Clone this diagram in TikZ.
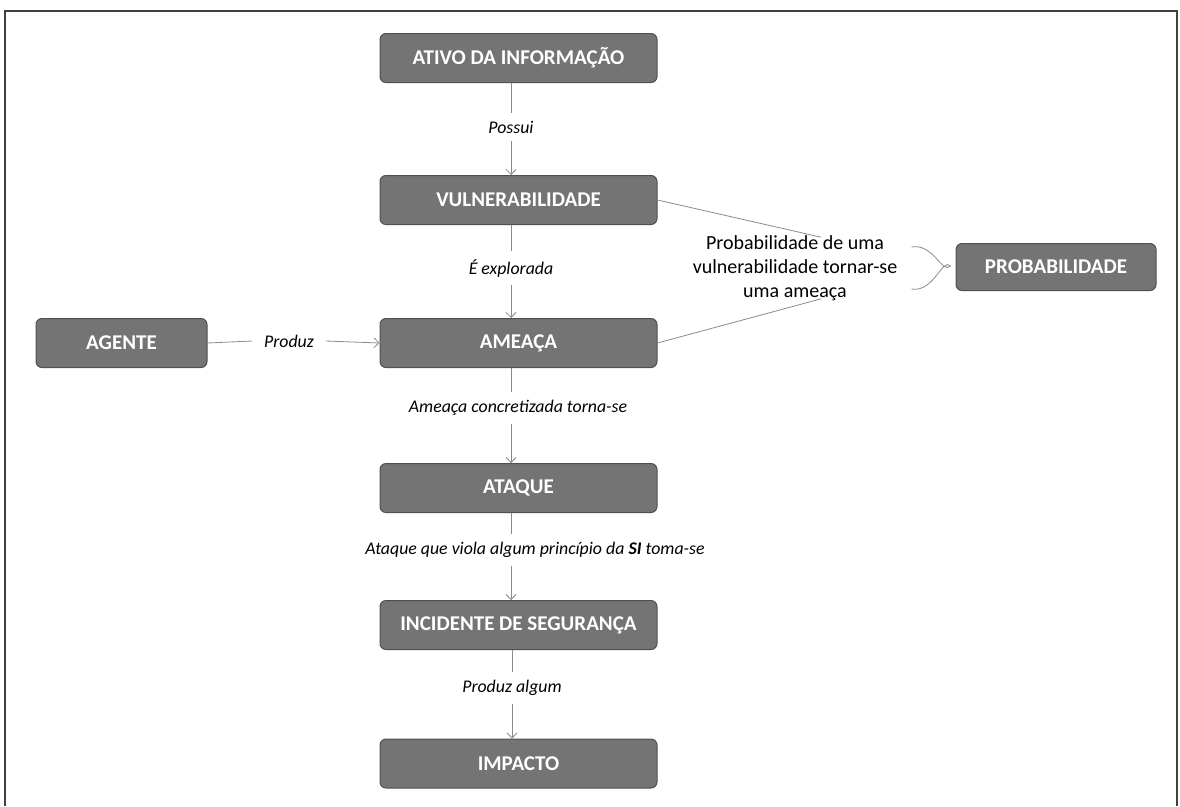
\documentclass[tikz,border=0pt]{standalone}
\usepackage{fontspec}
\setmainfont{Carlito}
\usetikzlibrary{arrows.meta}
\definecolor{boxfill}{HTML}{747474}
\definecolor{boxborder}{HTML}{505050}
\definecolor{linegray}{HTML}{8A8A8A}
\definecolor{framegray}{HTML}{404040}
\begin{document}
\begin{tikzpicture}[x=1pt,y=-1pt,
  box/.style={draw=boxborder, fill=boxfill, rounded corners=6pt, line width=1pt,
    text=white, font=\fontsize{21}{24}\selectfont\bfseries,
    minimum width=277pt, minimum height=49pt, inner sep=0pt},
  lab/.style={font=\fontsize{17.8}{20}\selectfont\itshape, inner sep=2pt, outer sep=6pt},
  conn/.style={draw=linegray, line width=0.8pt},
  arr/.style={conn, -{Straight Barb[length=5pt,width=10pt]}}]
\useasboundingbox (0,0) rectangle (1180,806);
\draw[framegray, line width=1.6pt] (5,806) -- (5,11) -- (1177,11) -- (1177,806);

\node[box] (ativo) at (518.5,58) {ATIVO DA INFORMAÇÃO};
\node[box] (vuln) at (518.5,200) {VULNERABILIDADE};
\node[box] (ameaca) at (518.5,343) {AMEAÇA};
\node[box] (ataque) at (518.5,488) {ATAQUE};
\node[box] (incid) at (518.5,625) {INCIDENTE DE SEGURANÇA};
\node[box] (impacto) at (518.5,763.5) {IMPACTO};
\node[box, minimum width=171pt] (agente) at (121.5,343) {AGENTE};
\node[box, minimum width=200pt, minimum height=47pt] (prob) at (1056,267) {PROBABILIDADE};

\node[lab] (l1) at (511,127) {Possui};
\node[lab] (l2) at (511,268) {É explorada};
\node[lab] (l3) at (518,408) {Ameaça concretizada torna-se};
\node[lab] (l4) at (535,550) {Ataque que viola algum princípio da \textbf{SI} toma-se};
\node[lab] (l5) at (512,688) {Produz algum};
\node[lab, outer sep=10pt] (l6) at (289,341) {Produz};
\node[font=\fontsize{20}{24}\selectfont, align=center, inner sep=0pt] (ptext) at (795,268)
  {Probabilidade de uma\\vulnerabilidade tornar-se\\uma ameaça};

\draw[conn] (ativo.south -| l1) -- (l1.north);
\draw[arr] (l1.south) -- (vuln.north -| l1);
\draw[conn] (vuln.south -| l2) -- (l2.north);
\draw[arr] (l2.south) -- (ameaca.north -| l2);
\draw[conn] (ameaca.south -| l1) -- (l3.north -| l1);
\draw[arr] (l3.south -| l1) -- (ataque.north -| l1);
\draw[conn] (ataque.south -| l1) -- (l4.north -| l1);
\draw[arr] (l4.south -| l1) -- (incid.north -| l1);
\draw[conn] (incid.south -| l5) -- (l5.north);
\draw[arr] (l5.south) -- (impacto.north -| l5);
\draw[conn] (agente.east) -- (l6.west);
\draw[arr] (l6.east) -- (ameaca.west);

\draw[conn] (vuln.east) -- ([xshift=26pt,yshift=-2pt]ptext.north);
\draw[conn] (ameaca.east) -- ([xshift=26pt,yshift=2pt]ptext.south);
\draw[conn] ([xshift=-44pt,yshift=-22pt]prob.west) .. controls +(22,4) and +(-8,-9) .. ([xshift=-5pt,yshift=1pt]prob.west);
\draw[conn] ([xshift=-44pt,yshift=20pt]prob.west) .. controls +(22,-4) and +(-8,9) .. ([xshift=-5pt,yshift=1pt]prob.west);
\end{tikzpicture}
\end{document}
